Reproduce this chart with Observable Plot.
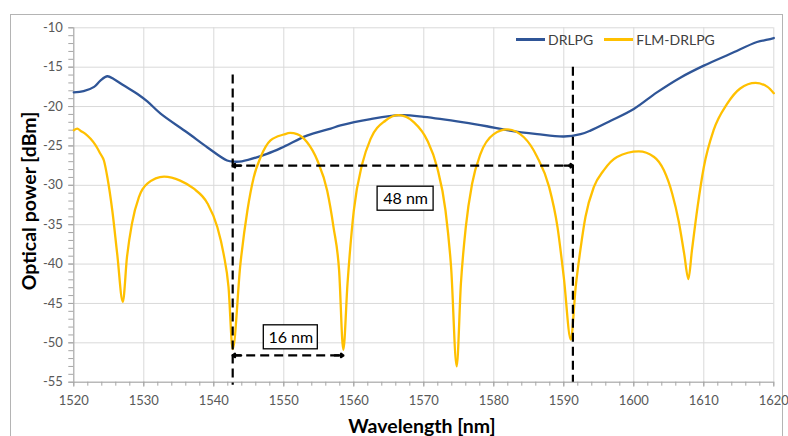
<!DOCTYPE html>
<html>
<head>
<meta charset="utf-8">
<script src="https://cdn.jsdelivr.net/npm/d3@7"></script>
<script src="https://cdn.jsdelivr.net/npm/@observablehq/plot@0.6"></script>
<style>
  html, body { margin: 0; padding: 0; background: #fff; }
  #wrap { position: relative; width: 788px; height: 436px; overflow: hidden; font-family: Lato, "Open Sans", sans-serif; }
  #frame { position: absolute; left: 10px; top: 14px; width: 773px; height: 460px; border: 1px solid #b4b4b4; box-sizing: border-box; }
  #chart { position: absolute; left: 0; top: 0; }
  #legend { position: absolute; top: 31px; left: 516px; font-size: 14px; color: #404040; display: flex; align-items: center; white-space: nowrap; }
  #legend .sw { display: inline-block; width: 29px; height: 2.5px; margin-right: 3px; }
  #legend .item { display: flex; align-items: center; margin-right: 11px; }
  #ylabel { position: absolute; left: 28px; top: 201px; transform: translate(-50%, -50%) rotate(-90deg); font-weight: bold; font-size: 19.5px; color: #000; white-space: nowrap; }
  #xlabel { position: absolute; left: 422px; top: 425px; transform: translate(-50%, -50%); font-weight: bold; font-size: 19.5px; color: #000; white-space: nowrap; }
</style>
</head>
<body>
<div id="wrap">
  <div id="frame"></div>
  <div id="chart"></div>
  <div id="legend"></div>
  <div id="ylabel">Optical power [dBm]</div>
  <div id="xlabel">Wavelength [nm]</div>
</div>
<script>
// ---- Data ----
const seriesNames = ["DRLPG", "FLM-DRLPG"];
const seriesColors = ["#2f5597", "#ffc000"];

const drlpgWavelength = [1520, 1521.4, 1522.9, 1523.8, 1524.8, 1525.7, 1527.1, 1529.1, 1530.5, 1532.4, 1536.2, 1539.1, 1541.9, 1542.9, 1544, 1547.6, 1550, 1553.3, 1556.7, 1558.1, 1562.4, 1566.7, 1570, 1575.7, 1579, 1581.9, 1586.2, 1590, 1592.4, 1593.8, 1596.7, 1600, 1603.3, 1606.7, 1610, 1613.8, 1617.6, 1619.1, 1620];
const drlpgPower = [-18.2, -18.05, -17.5, -16.7, -16.15, -16.5, -17.3, -18.4, -19.35, -20.9, -23.3, -25.2, -26.85, -27.0, -26.95, -26.0, -25.1, -23.7, -22.8, -22.4, -21.6, -21.1, -21.3, -22.0, -22.5, -23.0, -23.5, -23.8, -23.5, -23.05, -21.8, -20.3, -18.2, -16.3, -14.8, -13.3, -11.8, -11.5, -11.3];

const flmWavelength = [1520, 1520.5, 1521, 1521.7, 1522.4, 1523.1, 1523.8, 1524.3, 1524.8, 1525.5, 1526.2, 1527.0, 1527.6, 1528.3, 1529.3, 1530.5, 1532.9, 1535.2, 1537.1, 1539.1, 1540.5, 1541.4, 1542.1, 1542.7, 1543.8, 1544.8, 1545.7, 1546.7, 1548.1, 1550.0, 1550.9, 1551.9, 1553.3, 1554.8, 1556.2, 1557.1, 1557.9, 1558.5, 1559.1, 1560.0, 1561.2, 1562.4, 1564.5, 1566.4, 1568.6, 1570.5, 1571.9, 1573.1, 1573.9, 1574.7, 1575.3, 1576.0, 1576.9, 1578.1, 1580.0, 1581.9, 1584.3, 1586.2, 1587.9, 1589.1, 1590.0, 1591.0, 1591.7, 1592.4, 1593.1, 1594.3, 1595.7, 1597.6, 1600.7, 1602.9, 1604.3, 1605.5, 1606.4, 1607.2, 1607.8, 1608.3, 1609.1, 1610.0, 1611.4, 1613.3, 1615.2, 1617.4, 1619.1, 1620];
const flmPower = [-23.0, -22.8, -23.1, -23.5, -24.1, -24.9, -26.0, -26.85, -29.0, -33.2, -38.7, -44.8, -39.1, -34.9, -31.5, -29.8, -28.9, -29.4, -30.4, -32.3, -35.3, -38.7, -42.9, -50.8, -40.0, -33.2, -29.0, -26.4, -24.3, -23.55, -23.35, -23.5, -24.5, -26.85, -30.7, -35.3, -40.8, -50.9, -42.5, -33.2, -27.3, -24.1, -21.8, -21.1, -22.0, -24.3, -27.7, -33.2, -40.4, -53.0, -42.5, -35.3, -29.8, -26.0, -23.5, -22.9, -23.9, -26.4, -30.2, -35.3, -41.7, -49.6, -42.9, -38.0, -34.0, -30.2, -28.1, -26.4, -25.7, -26.4, -28.1, -31.1, -34.5, -38.7, -41.9, -38.3, -32.8, -27.7, -23.0, -19.7, -17.7, -17.0, -17.5, -18.3];

const xMajorTicks = [1520, 1530, 1540, 1550, 1560, 1570, 1580, 1590, 1600, 1610, 1620];
const yMajorTicks = [-55, -50, -45, -40, -35, -30, -25, -20, -15, -10];

// annotation markers
const markerWavelength = [1542.7, 1591.3];
const markerTop = [-16.0, -15.0];
const markerBottom = [-55.4, -55.0];
const spanStart = [1542.7, 1542.7];
const spanEnd = [1591.3, 1558.5];
const spanLevel = [-27.5, -51.6];
const spanLabel = ["48 nm", "16 nm"];
const labelWavelength = [1567.4, 1551.0];
const labelPower = [-31.7, -49.3];

// ---- Build tables ----
const drlpg = drlpgWavelength.map((x, i) => ({x, y: drlpgPower[i]}));
const flm = flmWavelength.map((x, i) => ({x, y: flmPower[i]}));
const markers = markerWavelength.map((x, i) => ({x, y1: markerTop[i], y2: markerBottom[i]}));
const spans = spanStart.map((x1, i) => ({x1, x2: spanEnd[i], y: spanLevel[i]}));
const labels = spanLabel.map((t, i) => ({t, x: labelWavelength[i], y: labelPower[i]}));
const heads = [];
spans.forEach(s => {
  heads.push({x1: s.x1 + 1.2, x2: s.x1, y: s.y});
  heads.push({x1: s.x2 - 1.2, x2: s.x2, y: s.y});
});

const xMinor = d3.range(1520, 1621, 2);
const yMinor = d3.range(-55, -9, 1);
const axisGrey = "#a6a6a6";
const fmt = d => `${d}`;

const boxMark = (data, half) => Plot.rect(data, {x1: "x", x2: "x", y1: "y", y2: "y", fill: "#fff", stroke: "#000", strokeWidth: 1.3,
  insetLeft: -half, insetRight: -half, insetTop: -12, insetBottom: -12});

const plot = Plot.plot({
  width: 788,
  height: 436,
  marginLeft: 73.3,
  marginRight: 14.7,
  marginTop: 27.3,
  marginBottom: 54.3,
  style: {fontFamily: "Lato, 'Open Sans', sans-serif", fontSize: "13px", background: "transparent"},
  x: {domain: [1520, 1620]},
  y: {domain: [-55, -10]},
  marks: [
    Plot.gridX(xMajorTicks, {stroke: "#d9d9d9", strokeOpacity: 1, strokeWidth: 1}),
    Plot.gridY(yMajorTicks, {stroke: "#d9d9d9", strokeOpacity: 1, strokeWidth: 1}),
    Plot.axisX(xMinor, {tickSize: 4, stroke: axisGrey, text: null}),
    Plot.axisX(xMajorTicks, {tickSize: 5, tickPadding: 9, stroke: axisGrey, fill: "#595959", tickFormat: fmt, label: null, fontSize: 13}),
    Plot.axisY(yMinor, {tickSize: 5, stroke: axisGrey, text: null}),
    Plot.axisY(yMajorTicks, {tickSize: 5, tickPadding: 6, stroke: axisGrey, fill: "#595959", tickFormat: fmt, label: null, fontSize: 13}),
    Plot.ruleX([1520], {stroke: axisGrey}),
    Plot.ruleY([-55], {stroke: axisGrey}),
    Plot.line(drlpg, {x: "x", y: "y", stroke: seriesColors[0], strokeWidth: 2.3, curve: "catmull-rom"}),
    Plot.line(flm, {x: "x", y: "y", stroke: seriesColors[1], strokeWidth: 2.3, curve: "monotone-x"}),
    Plot.ruleX(markers, {x: "x", y1: "y1", y2: "y2", stroke: "#000", strokeWidth: 2.2, strokeDasharray: "9,5"}),
    Plot.ruleY(spans, {y: "y", x1: "x1", x2: "x2", stroke: "#000", strokeWidth: 2.2, strokeDasharray: "9,5"}),
    Plot.arrow(heads, {x1: "x1", x2: "x2", y1: "y", y2: "y", stroke: "#000", strokeWidth: 2.4, headLength: 9, headAngle: 70}),
    boxMark([labels[0]], 28),
    boxMark([labels[1]], 27),
    Plot.text(labels, {x: "x", y: "y", text: "t", fontSize: 16, fill: "#000", dy: 0.5})
  ]
});
document.getElementById("chart").appendChild(plot);

// legend
const legend = document.getElementById("legend");
seriesNames.forEach((name, i) => {
  const item = document.createElement("span");
  item.className = "item";
  const sw = document.createElement("span");
  sw.className = "sw";
  sw.style.background = seriesColors[i];
  item.appendChild(sw);
  item.appendChild(document.createTextNode(name));
  legend.appendChild(item);
});
</script>
</body>
</html>
